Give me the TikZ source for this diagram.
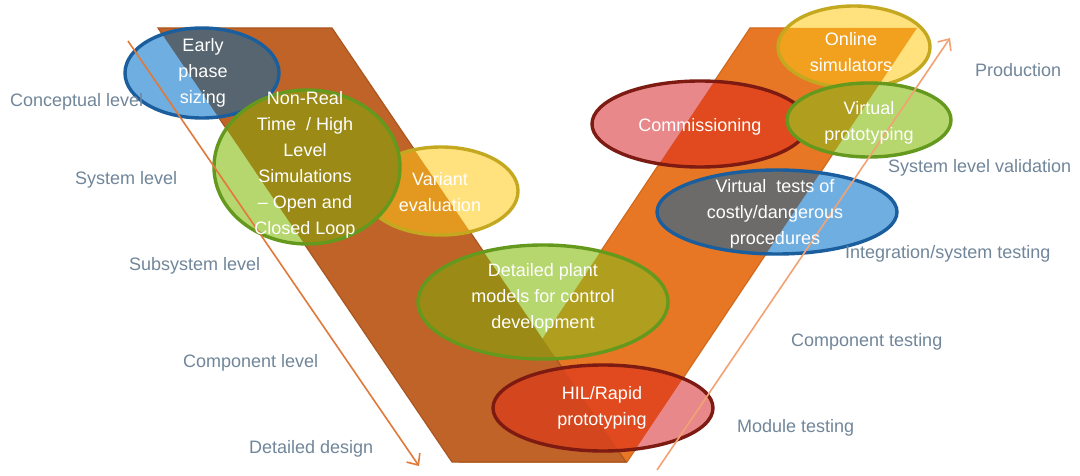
\documentclass[tikz,border=0pt]{standalone}
\usepackage{fontspec}
\setmainfont{Liberation Sans}
\usetikzlibrary{arrows.meta}
\definecolor{brownarm}{HTML}{C06328}
\definecolor{brownedge}{HTML}{A9561F}
\definecolor{orangearm}{HTML}{E87725}
\definecolor{orangeedge}{HTML}{CF6A1F}
\definecolor{lbl}{HTML}{71869A}
\definecolor{bluelight}{HTML}{6FAEE0}
\definecolor{bluebrown}{HTML}{56656F}
\definecolor{blueorange}{HTML}{6C6B6A}
\definecolor{blueedge}{HTML}{1B5E9E}
\definecolor{greenlight}{HTML}{B6D66E}
\definecolor{greenbrown}{HTML}{9C8A16}
\definecolor{greenorange}{HTML}{B09E1E}
\definecolor{greenedge}{HTML}{64991E}
\definecolor{yellowlight}{HTML}{FFE27E}
\definecolor{yellowbrown}{HTML}{E3991F}
\definecolor{yelloworange}{HTML}{F2A11E}
\definecolor{yellowedge}{HTML}{C4A820}
\definecolor{redlight}{HTML}{E8888A}
\definecolor{redbrown}{HTML}{D4461E}
\definecolor{redorange}{HTML}{E04A1E}
\definecolor{rededge}{HTML}{7D1A12}
\definecolor{arrowleft}{HTML}{E0793A}
\definecolor{arrowright}{HTML}{F3A274}
\tikzset{
  lvl/.style={text=lbl, font=\fontsize{18}{22}\selectfont, inner sep=0pt, anchor=west},
  intext/.style={text=white, font=\fontsize{18}{26}\selectfont, align=center, inner sep=0pt},
  flowarrow/.style={line width=1.6pt, -{Straight Barb[length=9pt,width=16pt,line width=1.6pt]}},
  rim/.style={line width=3.4pt}
}
\newcommand\vell[7]{%
  \fill[#4] #1 ellipse [x radius=#2pt, y radius=#3pt];
  \begin{scope}\clip \rightarm; \fill[#5] #1 ellipse [x radius=#2pt, y radius=#3pt];\end{scope}
  \begin{scope}\clip \leftarm; \fill[#6] #1 ellipse [x radius=#2pt, y radius=#3pt];\end{scope}
  \draw[rim, #7] #1 ellipse [x radius=#2pt, y radius=#3pt];
}
\begin{document}
\begin{tikzpicture}[x=1pt,y=-1pt]
\useasboundingbox (0,0) rectangle (1080,476);
\fill[white] (0,0) rectangle (1080,476);
\def\leftarm{(158,28) -- (332,28) -- (626,462) -- (452,462) -- cycle}
\def\rightarm{(750,28) -- (917,28) -- (627,462) -- (460,462) -- cycle}
\filldraw[fill=orangearm, draw=orangeedge, line width=1.2pt] \rightarm;
\filldraw[fill=brownarm, draw=brownedge, line width=1.2pt] \leftarm;

% ellipses
\vell{(202,73)}{77}{45}{bluelight}{blueorange}{bluebrown}{blueedge}
\vell{(441,191)}{77}{44}{yellowlight}{yelloworange}{yellowbrown}{yellowedge}
\vell{(307,167)}{93}{77}{greenlight}{greenorange}{greenbrown}{greenedge}
\vell{(543,302)}{125}{57}{greenlight}{greenorange}{greenbrown}{greenedge}
\vell{(603,408)}{110}{43}{redlight}{redorange}{redbrown}{rededge}
\vell{(700,124)}{108}{43}{redlight}{redorange}{redbrown}{rededge}
\vell{(854,47)}{76}{41}{yellowlight}{yelloworange}{yellowbrown}{yellowedge}
\vell{(777,212)}{120}{42}{bluelight}{blueorange}{bluebrown}{blueedge}
\vell{(869,120)}{82}{37}{greenlight}{greenorange}{greenbrown}{greenedge}

% arrows
\coordinate (la1) at (128,41);
\coordinate (la2) at (419,466);
\coordinate (ra1) at (657,470);
\coordinate (ra2) at (950,38);
\draw[flowarrow, arrowleft] (la1) -- (la2);
\draw[flowarrow, arrowright] (ra1) -- (ra2);

% ellipse texts
\node[intext] (early) at (203,73) {Early\\phase\\sizing};
\node[intext] (nonreal) at (305,165) {Non-Real\\Time\ \ / High\\Level\\Simulations\\– Open and\\Closed Loop};
\node[intext] (variant) at (440,192) {Variant\\evaluation};
\node[intext] (plant) at (543,298) {Detailed plant\\models for control\\development};
\node[intext] (hil) at (602,408) {HIL/Rapid\\prototyping};
\node[intext] (comm) at (700,127) {Commissioning};
\node[intext] (online) at (851,52) {Online\\simulators};
\node[intext] (vproto) at (869,123) {Virtual\\prototyping};
\node[intext] (vtests) at (775,214) {Virtual\ \ tests of\\costly/dangerous\\procedures};

% level labels
\node[lvl] (l1) at (10,102) {Conceptual level};
\node[lvl] (l2) at (75,180) {System level};
\node[lvl] (l3) at (129,266) {Subsystem level};
\node[lvl] (l4) at (183,363) {Component level};
\node[lvl] (l5) at (249,449) {Detailed design};
\node[lvl] (r1) at (975,70) {Production};
\node[lvl] (r2) at (888,168) {System level validation};
\node[lvl] (r3) at (845,254) {Integration/system testing};
\node[lvl] (r4) at (791,342) {Component testing};
\node[lvl] (r5) at (737,428) {Module testing};
\end{tikzpicture}
\end{document}
